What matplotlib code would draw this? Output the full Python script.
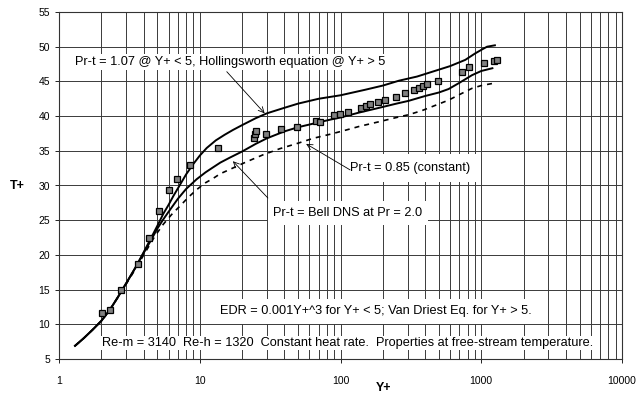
import numpy as np
import matplotlib
matplotlib.use("Agg")
import matplotlib.pyplot as plt
from matplotlib.ticker import LogLocator, FixedLocator, NullFormatter

plt.rcParams['font.family'] = ['Liberation Sans', 'DejaVu Sans']

# ---- data ----
# measured points (squares)
meas_y = [2.01, 2.30, 2.78, 3.65, 4.35, 5.15, 6.0, 6.87, 8.49, 13.5,
          24.3, 24.8, 25.2, 29.4, 37.9, 49.3, 66.5, 71.8, 90.6, 98.4, 112.7,
          140, 152, 161, 186, 208, 248, 288, 335, 363, 388, 412, 496,
          725, 813, 1050, 1237, 1284]
meas_t = [11.6, 12.0, 15.0, 18.7, 22.5, 26.3, 29.3, 31.0, 32.9, 35.4,
          36.9, 37.4, 37.9, 37.4, 38.1, 38.4, 39.3, 39.1, 40.2, 40.3, 40.6,
          41.1, 41.4, 41.7, 42.1, 42.3, 42.8, 43.3, 43.8, 44.1, 44.4, 44.6, 45.1,
          46.4, 47.1, 47.6, 47.9, 48.1]

# Pr-t = 1.07 / Hollingsworth
holl_y = [1.3, 1.5, 1.75, 2.0, 2.3, 2.6, 3.0, 3.5, 4.0, 4.5, 5.0, 5.5, 6.0,
          6.5, 7.0, 8.0, 9.0, 10, 11.2, 13, 15, 17.2, 20, 25, 30, 40, 50,
          70, 100, 150, 200, 260, 350, 450, 600, 770, 900, 1012, 1100, 1250]
holl_t = [6.9, 8.0, 9.3, 10.5, 12.1, 13.8, 15.9, 18.2, 20.4, 22.4, 24.2, 25.9, 27.2,
          28.5, 29.6, 31.6, 33.1, 34.3, 35.4, 36.5, 37.3, 38.0, 38.7, 39.7, 40.4, 41.2, 41.8,
          42.5, 43.0, 43.8, 44.4, 45.1, 45.7, 46.4, 47.2, 48.1, 49.0, 49.6, 50.0, 50.2]

# Pr-t = Bell DNS at Pr = 2.0
bell_y = [1.3, 1.5, 1.75, 2.0, 2.3, 2.6, 3.0, 3.5, 4.0, 4.5, 5.0, 5.5, 6.0,
          7.0, 8.0, 9.5, 11, 12.4, 14, 16.3, 20, 25, 30, 40, 50, 70, 85,
          100, 135, 180, 250, 305, 400, 500, 586, 700, 860, 1000, 1200]
bell_t = [6.9, 8.0, 9.3, 10.5, 12.1, 13.8, 15.9, 18.2, 20.3, 22.1, 23.8, 25.1, 26.2,
          28.1, 29.5, 30.9, 31.9, 32.6, 33.3, 34.0, 34.9, 36.0, 36.8, 37.8, 38.4, 39.1, 39.5,
          39.8, 40.5, 41.1, 41.8, 42.2, 42.9, 43.4, 43.9, 44.8, 45.9, 46.5, 46.9]

# Pr-t = 0.85 (constant)
c085_y = [1.3, 1.5, 1.75, 2.0, 2.3, 2.6, 3.0, 3.5, 4.0, 4.8, 5.5, 6.3, 7.2,
          8.3, 9.5, 11, 12.4, 14, 16.3, 21.4, 28, 37, 50, 64, 85, 110, 135,
          189, 250, 305, 380, 452, 586, 700, 860, 1000, 1200]
c085_t = [6.9, 8.0, 9.3, 10.5, 12.1, 13.8, 15.8, 18.0, 20.0, 22.7, 24.4, 25.8, 27.0,
          28.3, 29.4, 30.4, 31.0, 31.7, 32.3, 33.4, 34.4, 35.3, 36.1, 36.8, 37.4, 38.0, 38.5,
          39.2, 39.8, 40.2, 40.8, 41.4, 42.3, 43.1, 44.0, 44.4, 44.7]

x_ticks = [1, 10, 100, 1000, 10000]
x_ticklabels = ["1", "10", "100", "1000", "10000"]
y_ticks = [5, 10, 15, 20, 25, 30, 35, 40, 45, 50, 55]

fig = plt.figure(figsize=(6.36, 3.96), dpi=100)
ax = fig.add_axes([59/636, 1-359/396, 563/636, 347/396])

ax.set_xscale("log")
ax.set_xlim(1, 10000)
ax.set_ylim(5, 55)

# grid
ax.xaxis.set_major_locator(FixedLocator(x_ticks))
ax.xaxis.set_minor_locator(LogLocator(base=10, subs=np.arange(2, 10)))
ax.xaxis.set_minor_formatter(NullFormatter())
ax.set_xticklabels(x_ticklabels)
ax.set_yticks(y_ticks)
ax.grid(True, which="both", color="#3a3a3a", lw=0.7)
ax.set_axisbelow(True)
ax.tick_params(which="both", length=3, width=0.6, labelsize=7.5)
ax.tick_params(axis="x", which="minor", length=0)
ax.tick_params(axis="x", pad=9)
for s in ax.spines.values():
    s.set_linewidth(0.8)
    s.set_color("#333333")

# curves
ax.plot(holl_y, holl_t, color="black", lw=1.4)
ax.plot(bell_y, bell_t, color="black", lw=1.4)
ax.plot(c085_y, c085_t, color="black", lw=1.2, ls=(0, (3, 3)))
ax.plot(meas_y, meas_t, ls="none", marker="s", ms=5,
        mfc="#808080", mec="black", mew=0.9)


def box(p):
    return dict(boxstyle=f"square,pad={p}", facecolor="white", edgecolor="none")


# annotations
fs = 9.2
ax.text(0.304, 0.856, "Pr-t = 1.07 @ Y+ < 5, Hollingsworth equation @ Y+ > 5",
        transform=ax.transAxes, ha="center", va="center", fontsize=fs, bbox=box(0.15))
ax.text(0.623, 0.550, "Pr-t = 0.85 (constant)",
        transform=ax.transAxes, ha="center", va="center", fontsize=fs, bbox=box(0.6))
ax.text(0.513, 0.421, "Pr-t = Bell DNS at Pr = 2.0",
        transform=ax.transAxes, ha="center", va="center", fontsize=fs, bbox=box(0.45))
ax.text(0.562, 0.138, "EDR = 0.001Y+^3 for Y+ < 5; Van Driest Eq. for Y+ > 5.",
        transform=ax.transAxes, ha="center", va="center", fontsize=fs, bbox=box(0.5))
ax.text(0.513, 0.046,
        "Re-m = 3140  Re-h = 1320  Constant heat rate.  Properties at free-stream temperature.",
        transform=ax.transAxes, ha="center", va="center", fontsize=fs, bbox=box(0.1))

arrow = dict(arrowstyle="->", lw=0.6, color="black", shrinkA=0, shrinkB=0)
ax.annotate("", xy=(28.9, 40.4), xycoords="data",
            xytext=(0.298, 0.828), textcoords="axes fraction", arrowprops=arrow)
ax.annotate("", xy=(57, 36.0), xycoords="data",
            xytext=(0.517, 0.545), textcoords="axes fraction", arrowprops=arrow)
ax.annotate("", xy=(17.2, 33.5), xycoords="data",
            xytext=(0.371, 0.464), textcoords="axes fraction", arrowprops=arrow)

fig.text(17/636, 1-186/396, "T+", ha="center", va="center",
         fontsize=9, fontweight="bold")
fig.text(384/636, 1-388/396, "Y+", ha="center", va="center",
         fontsize=9, fontweight="bold")

fig.savefig("out.png", dpi=100)
